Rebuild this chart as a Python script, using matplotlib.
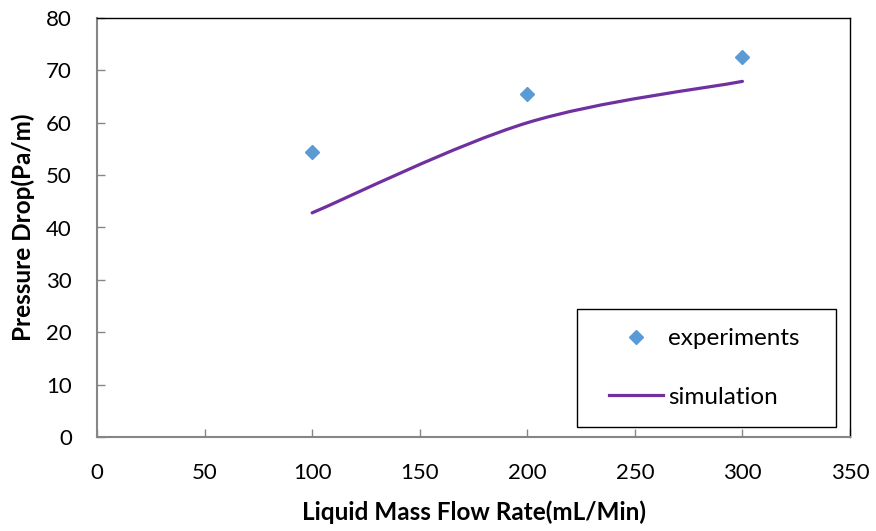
import matplotlib
matplotlib.use("Agg")
import matplotlib.pyplot as plt
from matplotlib.path import Path
from matplotlib.patches import PathPatch, Rectangle
from matplotlib.lines import Line2D

plt.rcParams['font.family'] = ['Lato', 'DejaVu Sans']

# Data
flow_rate = [100, 200, 300]
experiments = [54.5, 65.4, 72.6]
simulation = [42.8, 60.0, 67.9]
x_ticks = [0, 50, 100, 150, 200, 250, 300, 350]
y_ticks = [0, 10, 20, 30, 40, 50, 60, 70, 80]

fig = plt.figure(figsize=(8.76, 5.31), dpi=100)
ax = fig.add_axes([97/876, 1-437/531, (850-97)/876, (437-18)/531])

ax.set_xlim(0, 350)
ax.set_ylim(0, 80)
ax.set_xticks(x_ticks)
ax.set_yticks(y_ticks)

# Smoothed line (Excel-like Catmull-Rom bezier through data points)
def smooth_path(xs, ys):
    pts = list(zip(xs, ys))
    n = len(pts)
    verts = [pts[0]]
    codes = [Path.MOVETO]
    for i in range(n - 1):
        p0 = pts[i - 1] if i > 0 else pts[i]
        p1 = pts[i]
        p2 = pts[i + 1]
        p3 = pts[i + 2] if i + 2 < n else pts[i + 1]
        c1 = (p1[0] + (p2[0] - p0[0]) / 6, p1[1] + (p2[1] - p0[1]) / 6)
        c2 = (p2[0] - (p3[0] - p1[0]) / 6, p2[1] - (p3[1] - p1[1]) / 6)
        verts += [c1, c2, p2]
        codes += [Path.CURVE4] * 3
    return Path(verts, codes)

sim_color = '#7030A0'
exp_color = '#5B9BD5'
patch = PathPatch(smooth_path(flow_rate, simulation), fill=False, edgecolor=sim_color,
                  linewidth=2.3, capstyle='round', zorder=3)
ax.add_patch(patch)
ax.plot(flow_rate, experiments, linestyle='none', marker='D', markersize=7,
        color=exp_color, zorder=4)

# Spines
for s in ['left', 'bottom']:
    ax.spines[s].set_color('#868686')
    ax.spines[s].set_linewidth(1.5)
for s in ['top', 'right']:
    ax.spines[s].set_color('black')
    ax.spines[s].set_linewidth(1.0)

ax.tick_params(axis='both', direction='in', length=6, width=1, color='#868686',
               labelsize=16, colors='#868686', labelcolor='black')
ax.tick_params(axis='x', pad=19)
ax.tick_params(axis='y', pad=18)

ax.set_xlabel('Liquid Mass Flow Rate(mL/Min)', fontsize=17.5, fontweight='bold', labelpad=12)
ax.set_ylabel('Pressure Drop(Pa/m)', fontsize=17.5, fontweight='bold', labelpad=8)

# Legend frame (drawn separately) and contents
ax.add_patch(Rectangle((480/753, 10/419), 259/753, 118/419, transform=ax.transAxes,
                       fill=True, facecolor='white', edgecolor='black', linewidth=1.0,
                       zorder=5))
handles = [Line2D([], [], linestyle='none', marker='D', markersize=7, color=exp_color),
           Line2D([], [], color=sim_color, linewidth=2.3)]
leg = ax.legend(handles, ['experiments', 'simulation'], loc='upper left',
                bbox_to_anchor=((609-97)/753, (437-328)/419), borderaxespad=0, borderpad=0,
                fontsize=17.5, frameon=False,
                handlelength=2.22, handletextpad=0.2, labelspacing=1.55)
leg.set_zorder(6)

fig.savefig('out.png', dpi=100)
